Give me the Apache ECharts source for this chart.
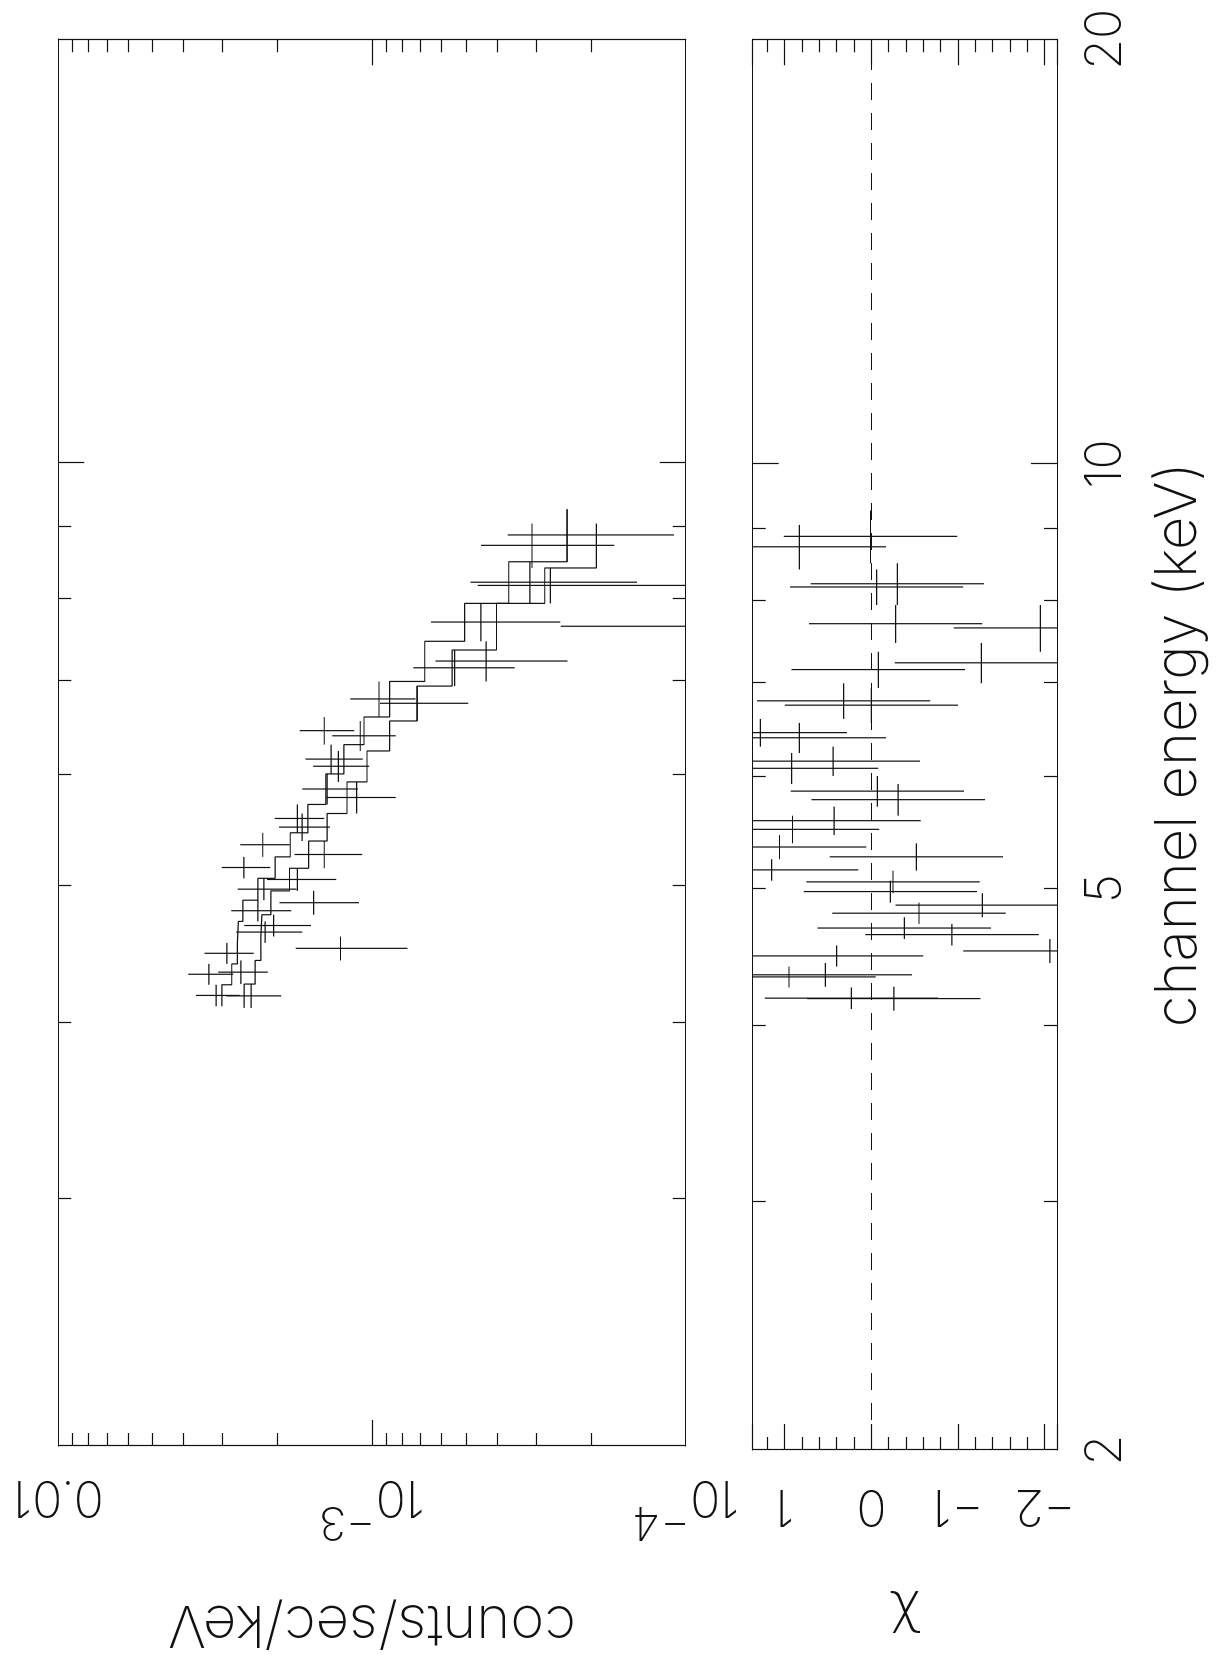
<!DOCTYPE html>
<html>
<head>
<meta charset="utf-8">
<title>Spectrum and residuals</title>
<script src="https://cdn.jsdelivr.net/npm/echarts@6.0.0/dist/echarts.min.js"></script>
<style>
  html, body { margin:0; padding:0; background:#fff; width:1217px; height:1660px; overflow:hidden; }
  #chart { position:absolute; left:0; top:0; width:1660px; height:1217px;
           transform-origin:0 0; transform:translate(0px,1660px) rotate(-90deg); }
</style>
</head>
<body>
<div id="chart"></div>
<script>
// ---------------- data ----------------
// Dataset A: channel bin edges (keV), counts/sec/keV, 1-sigma error, model, residual chi
const energyEdgesA = [4.108, 4.255, 4.403, 4.557, 4.720, 4.887, 5.065, 5.246, 5.457, 5.716, 6.009, 6.304, 6.596, 6.991, 7.466, 7.944, 8.504, 9.267];
const countsA = [3.14e-3, 3.31e-3, 2.90e-3, 2.19e-3, 2.31e-3, 2.21e-3, 2.56e-3, 2.23e-3, 1.73e-3, 1.39e-3, 1.35e-3, 1.42e-3, 9.50e-4, 4.33e-4, 4.50e-4, 3.14e-4, 2.39e-4];
const errorsA = [5.0e-4, 5.4e-4, 5.2e-4, 5.2e-4, 5.0e-4, 4.7e-4, 4.5e-4, 4.0e-4, 3.1e-4, 2.8e-4, 2.8e-4, 2.8e-4, 2.23e-4, 1.95e-4, 1.99e-4, 1.71e-4, 1.30e-4];
const modelA = [3.01e-3, 2.80e-3, 2.685e-3, 2.665e-3, 2.58e-3, 2.31e-3, 2.035e-3, 1.822e-3, 1.60e-3, 1.402e-3, 1.2285e-3, 1.0604e-3, 8.787e-4, 6.79e-4, 5.065e-4, 3.665e-4, 2.387e-4];
const chiA = [0.23, 0.95, 0.40, -0.93, -0.55, -0.22, 1.15, 1.06, 0.43, -0.07, 0.44, 1.28, 0.32, -1.27, -0.28, -0.30, 0.01];

// Dataset B
const energyEdgesB = [4.097, 4.260, 4.428, 4.605, 4.772, 4.962, 5.149, 5.384, 5.632, 5.931, 6.239, 6.553, 6.938, 7.360, 7.944, 8.418, 9.053];
const countsB = [2.43e-3, 2.62e-3, 1.26e-3, 2.06e-3, 1.536e-3, 1.73e-3, 1.42e-3, 1.67e-3, 1.12e-3, 1.28e-3, 1.09e-3, 7.18e-4, 5.45e-4, 0.91e-4, 2.70e-4, 3.09e-4];
const errorsB = [4.85e-4, 4.7e-4, 4.9e-4, 4.95e-4, 4.35e-4, 4.3e-4, 3.45e-4, 3.1e-4, 2.8e-4, 2.6e-4, 2.5e-4, 2.25e-4, 1.94e-4, 1.59e-4, 1.90e-4, 1.40e-4];
const modelB = [2.556e-3, 2.358e-3, 2.26e-3, 2.244e-3, 2.101e-3, 1.832e-3, 1.593e-3, 1.391e-3, 1.2016e-3, 1.0375e-3, 8.787e-4, 7.184e-4, 5.555e-4, 4.01e-4, 2.814e-4, 1.925e-4];
const chiB = [-0.26, 0.53, -2.06, -0.38, -1.28, -0.25, -0.52, 0.91, -0.31, 0.92, 0.83, 0.00, -0.08, -1.95, -0.06, 0.83];

// axis ranges and tick values
const energyRange = [2, 20];
const countsRange = [1e-4, 1e-2];
const chiRange = [-2.142, 1.369];
const energyMinorTicks = [3, 4, 5, 6, 7, 8, 9];
const energyMajorTicks = [10];
const energyTickLabels = [2, 5, 10, 20];
const countsMinorTicks = [2e-4, 3e-4, 4e-4, 5e-4, 6e-4, 7e-4, 8e-4, 9e-4, 2e-3, 3e-3, 4e-3, 5e-3, 6e-3, 7e-3, 8e-3, 9e-3];
const countsMajorTicks = [1e-3];
const countsTickLabels = [1e-4, 1e-3, 1e-2];
const chiTickLabels = [-2, -1, 0, 1];

// ---------------- styling ----------------
const INK = '#111';
const LW = 1.2;
const FONT = "Inter, 'DejaVu Sans', sans-serif";
const WEIGHT = 200;
const TICK_FS = 50;
const NAME_FS = 58;

function binsOf(edges, vals, errs) {
  return vals.map((v, i) => [edges[i], edges[i + 1], v, errs ? errs[i] : 1]);
}
function stepOf(edges, vals) {
  const pts = [];
  vals.forEach((v, i) => { pts.push([edges[i], v]); pts.push([edges[i + 1], v]); });
  return pts;
}
function crossRenderer(isLog) {
  return function (params, api) {
    const lo = api.value(0), hi = api.value(1), v = api.value(2), e = api.value(3);
    const mid = (lo + hi) / 2;
    const a = api.coord([lo, v]), b = api.coord([hi, v]);
    const low = isLog ? Math.max(v - e, 1e-9) : v - e;
    const c1 = api.coord([mid, low]), c2 = api.coord([mid, v + e]);
    const st = { stroke: INK, lineWidth: LW };
    return { type: 'group', children: [
      { type: 'line', shape: { x1: a[0], y1: a[1], x2: b[0], y2: b[1] }, style: st },
      { type: 'line', shape: { x1: c1[0], y1: c1[1], x2: c2[0], y2: c2[1] }, style: st }
    ]};
  };
}

const lineStyle = { color: INK, width: LW };
const textBase = { color: INK, fontFamily: FONT, fontWeight: WEIGHT };

function energyAxis(gridIndex, position, ticks, len, showLine, labels) {
  const ax = {
    type: 'log', logBase: 10, min: energyRange[0], max: energyRange[1], gridIndex, position,
    axisLine: { show: showLine, onZero: false, lineStyle },
    axisTick: { show: true, inside: true, length: len, customValues: ticks, lineStyle },
    axisLabel: { show: false }, splitLine: { show: false }
  };
  if (labels) {
    ax.axisLabel = Object.assign({ show: true, customValues: energyTickLabels, margin: 23.5, fontSize: TICK_FS,
      alignMinLabel: 'center', alignMaxLabel: 'center',
      formatter: v => String(Math.round(v)) }, textBase);
    ax.name = 'channel energy (keV)';
    ax.nameLocation = 'middle';
    ax.nameGap = 93;
    ax.nameTextStyle = Object.assign({ fontSize: NAME_FS }, textBase);
  }
  return ax;
}
function countsAxis(position, ticks, len, showLine, labels) {
  const ax = {
    type: 'log', logBase: 10, min: countsRange[0], max: countsRange[1], gridIndex: 0, position,
    axisLine: { show: showLine, onZero: false, lineStyle },
    axisTick: { show: true, inside: true, length: len, customValues: ticks, lineStyle },
    axisLabel: { show: false }, splitLine: { show: false }
  };
  if (labels) {
    ax.axisLabel = {
      show: true, customValues: countsTickLabels, rotate: 90, margin: 25,
      alignMinLabel: 'center', alignMaxLabel: 'center', hideOverlap: false,
      formatter: v => {
        const p = Math.round(Math.log10(v));
        if (p === -2) return '{b|0.01}';
        return '{b|10}{s|\u2212' + (-p) + '}';
      },
      rich: {
        b: Object.assign({ fontSize: TICK_FS, lineHeight: 73, verticalAlign: 'bottom' }, textBase),
        s: Object.assign({ fontSize: 46, lineHeight: 73, verticalAlign: 'top' }, textBase)
      }
    };
    ax.name = 'counts/sec/keV';
    ax.nameLocation = 'middle';
    ax.nameRotate = 90;
    ax.nameGap = 148;
    ax.nameTextStyle = Object.assign({ fontSize: NAME_FS }, textBase);
  }
  return ax;
}
function chiAxis(position, labels) {
  const ax = {
    type: 'value', min: chiRange[0], max: chiRange[1], gridIndex: 1, position,
    axisLine: { show: true, onZero: false, lineStyle },
    axisTick: { show: true, inside: true, length: 26, lineStyle },
    minorTick: { show: true, splitNumber: 5, length: 13, lineStyle },
    axisLabel: { show: false }, splitLine: { show: false }
  };
  if (labels) {
    ax.axisLabel = Object.assign({ show: true, customValues: chiTickLabels, rotate: 90, margin: 30, fontSize: TICK_FS,
      formatter: v => (v < 0 ? '\u2212' + Math.abs(v) : String(v)) }, textBase);
    ax.name = '\u03c7';
    ax.nameLocation = 'middle';
    ax.nameRotate = 90;
    ax.nameGap = 140;
    ax.nameTextStyle = { fontSize: 56, color: INK, fontFamily: "'DejaVu Sans', sans-serif", fontWeight: 200 };
  }
  return ax;
}

const option = {
  backgroundColor: '#fff',
  animation: false,
  grid: [
    { left: 210, right: 39.3, top: 58.3, height: 627.4, containLabel: false },
    { left: 210, right: 39.3, top: 752.7, height: 304.3, containLabel: false }
  ],
  xAxis: [
    energyAxis(0, 'bottom', energyMinorTicks, 13, true, false),
    energyAxis(0, 'top', energyMinorTicks, 13, true, false),
    energyAxis(0, 'bottom', energyMajorTicks, 26, false, false),
    energyAxis(0, 'top', energyMajorTicks, 26, false, false),
    energyAxis(1, 'bottom', energyMinorTicks, 13, true, true),
    energyAxis(1, 'top', energyMinorTicks, 13, true, false),
    energyAxis(1, 'bottom', energyMajorTicks, 26, false, false),
    energyAxis(1, 'top', energyMajorTicks, 26, false, false)
  ],
  yAxis: [
    countsAxis('left', countsMinorTicks, 13, true, true),
    countsAxis('right', countsMinorTicks, 13, true, false),
    countsAxis('left', countsMajorTicks, 26, false, false),
    countsAxis('right', countsMajorTicks, 26, false, false),
    chiAxis('left', true),
    chiAxis('right', false)
  ],
  series: [
    { name: 'data A', type: 'custom', xAxisIndex: 0, yAxisIndex: 0, clip: true, silent: true,
      encode: { x: [0, 1], y: 2 }, renderItem: crossRenderer(true), data: binsOf(energyEdgesA, countsA, errorsA) },
    { name: 'data B', type: 'custom', xAxisIndex: 0, yAxisIndex: 0, clip: true, silent: true,
      encode: { x: [0, 1], y: 2 }, renderItem: crossRenderer(true), data: binsOf(energyEdgesB, countsB, errorsB) },
    { name: 'model A', type: 'line', xAxisIndex: 0, yAxisIndex: 0, symbol: 'none', silent: true,
      lineStyle: { color: INK, width: LW }, data: stepOf(energyEdgesA, modelA) },
    { name: 'model B', type: 'line', xAxisIndex: 0, yAxisIndex: 0, symbol: 'none', silent: true,
      lineStyle: { color: INK, width: LW }, data: stepOf(energyEdgesB, modelB) },
    { name: 'chi A', type: 'custom', xAxisIndex: 4, yAxisIndex: 4, clip: true, silent: true,
      encode: { x: [0, 1], y: 2 }, renderItem: crossRenderer(false), data: binsOf(energyEdgesA, chiA),
      markLine: { silent: true, symbol: 'none', label: { show: false },
        lineStyle: { color: INK, width: LW, type: [17, 13] }, data: [{ yAxis: 0 }] } },
    { name: 'chi B', type: 'custom', xAxisIndex: 4, yAxisIndex: 4, clip: true, silent: true,
      encode: { x: [0, 1], y: 2 }, renderItem: crossRenderer(false), data: binsOf(energyEdgesB, chiB) }
  ]
};

const chart = echarts.init(document.getElementById('chart'), null, { renderer: 'canvas', width: 1660, height: 1217 });
chart.setOption(option);
</script>
</body>
</html>
